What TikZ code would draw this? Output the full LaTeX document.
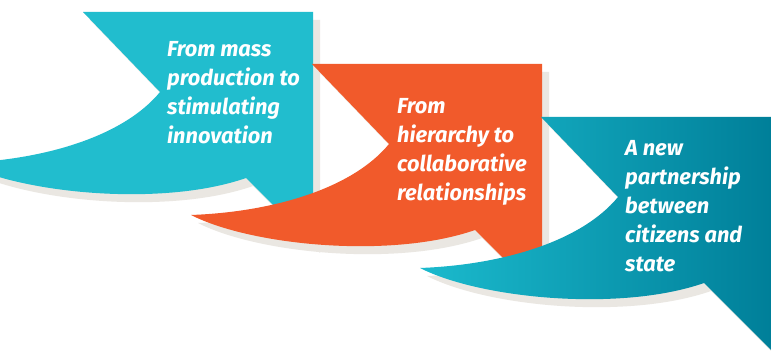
\documentclass[tikz,border=0pt]{standalone}
\usepackage{fontspec}
\setsansfont{Fira Sans}
\definecolor{teal1}{HTML}{21BDCE}
\definecolor{orange1}{HTML}{F15A2B}
\definecolor{tealL}{HTML}{1BBACD}
\definecolor{tealD}{HTML}{007F99}
\definecolor{shadowc}{HTML}{EAE7E2}
\newcommand\bubblepath{(-230,0) -- (0,0) -- (0,233) -- (-67,166) .. controls (-150,195) and (-290,182) .. (-351,151) .. controls (-270,148) and (-190,125) .. (-153,80) -- cycle}
\tikzset{
  lbl/.style={anchor=north west, inner sep=0pt, text=white, align=left,
    font=\sffamily\bfseries\itshape\fontsize{21.8}{29}\selectfont},
  shadowfill/.style={fill=shadowc},
}
\begin{document}
\begin{tikzpicture}[x=1pt,y=-1pt]
\useasboundingbox (0,0) rectangle (771,352);
\clip (0,0) rectangle (771,352);
\fill[white] (0,0) rectangle (771,352);
% bubble 1
\begin{scope}[shift={(313,12)}]
  \fill[shadowfill, shift={(7,8)}] \bubblepath;
  \fill[teal1] \bubblepath;
\end{scope}
\node[lbl] (t1) at (167,41) {From mass\\production to\\stimulating\\innovation};
% bubble 2
\begin{scope}[shift={(542,64)}]
  \fill[shadowfill, shift={(7,8)}] \bubblepath;
  \fill[orange1] \bubblepath;
\end{scope}
\node[lbl] (t2) at (397,98) {From\\hierarchy to\\collaborative\\relationships};
% bubble 3
\begin{scope}[shift={(771,117)}]
  \fill[shadowfill, shift={(7,8)}] \bubblepath;
  \shade[left color=tealL, right color=tealD] \bubblepath;
\end{scope}
\node[lbl] (t3) at (625,140) {A new\\partnership\\between\\citizens and\\state};
\end{tikzpicture}
\end{document}
